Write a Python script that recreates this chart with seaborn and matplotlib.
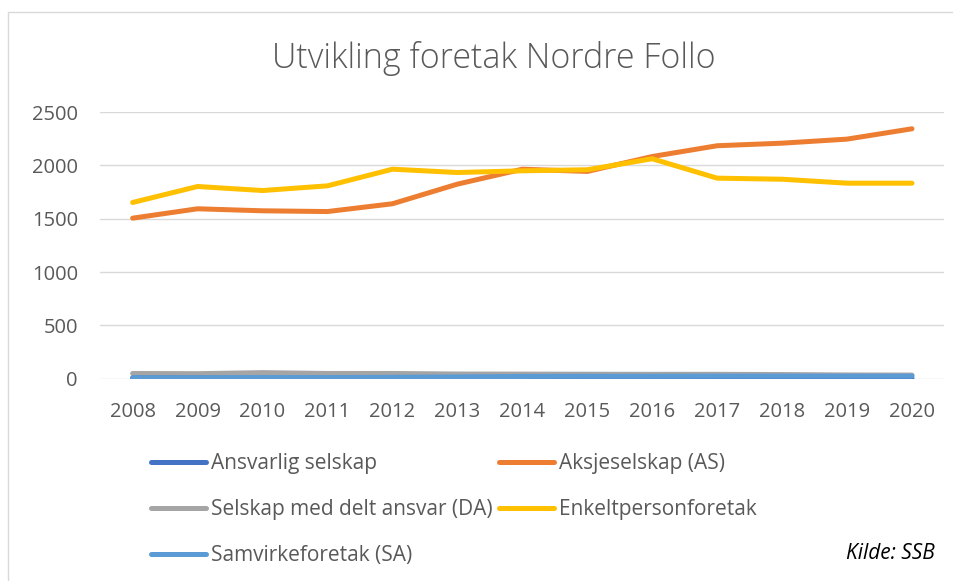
import pandas as pd
import matplotlib.pyplot as plt
import seaborn as sns
from matplotlib.patches import Rectangle

years = list(range(2008, 2021))

ansvarlig = [8, 8, 8, 7, 7, 6, 6, 6, 6, 6, 5, 5, 5]
aksje = [1506, 1594, 1575, 1568, 1641, 1825, 1965, 1944, 2084, 2185, 2209, 2247, 2344]
delt_ansvar = [50, 48, 58, 50, 50, 45, 44, 43, 42, 42, 40, 36, 35]
enkelt = [1653, 1803, 1765, 1809, 1965, 1934, 1950, 1960, 2063, 1881, 1871, 1834, 1834]
samvirke = [10, 10, 12, 12, 14, 18, 22, 24, 24, 25, 25, 25, 25]

series_names = ["Ansvarlig selskap", "Aksjeselskap (AS)", "Selskap med delt ansvar (DA)",
                "Enkeltpersonforetak", "Samvirkeforetak (SA)"]
colors = ["#4472C4", "#ED7D31", "#A5A5A5", "#FFC000", "#5B9BD5"]

df = pd.DataFrame({"År": years,
                   series_names[0]: ansvarlig,
                   series_names[1]: aksje,
                   series_names[2]: delt_ansvar,
                   series_names[3]: enkelt,
                   series_names[4]: samvirke})
long_df = df.melt(id_vars="År", var_name="Type", value_name="Antall")

sns.set_style("white")
plt.rcParams['font.family'] = ['Open Sans', 'DejaVu Sans']
txt = "#595959"

fig = plt.figure(figsize=(9.54, 5.81), dpi=100)
ax = fig.add_axes([0.105, 0.348, 0.885, 0.459])

# draw order: small series first so the big ones sit on top
draw_order = [2, 0, 4, 1, 3]
for i in draw_order:
    sub = long_df[long_df["Type"] == series_names[i]]
    sns.lineplot(data=sub, x="År", y="Antall", color=colors[i], lw=3.6,
                 label=series_names[i], ax=ax, solid_capstyle="round")

ax.set_xlim(2007.5, 2020.5)
ax.set_ylim(0, 2500)
ax.set_xticks(years)
ax.set_yticks([0, 500, 1000, 1500, 2000, 2500])
ax.yaxis.grid(True, color="#D9D9D9", lw=1)
ax.set_axisbelow(True)
for s in ax.spines.values():
    s.set_visible(False)
ax.tick_params(axis="both", length=0, labelsize=14.5, colors=txt)
ax.tick_params(axis="x", pad=17)
ax.tick_params(axis="y", pad=16)
ax.set_xlabel("")
ax.set_ylabel("")
ax.get_legend().remove()

fig.text(0.518, 0.899, "Utvikling foretak Nordre Follo", ha="center", va="center",
         fontsize=24.5, color=txt, fontweight="light")

handles, labels = ax.get_legend_handles_labels()
lookup = dict(zip(labels, handles))
leg_order = [0, 2, 4, 1, 3]
fig.legend([lookup[series_names[i]] for i in leg_order],
           [series_names[i] for i in leg_order],
           ncol=2, frameon=False, loc="upper left", bbox_to_anchor=(0.158, 0.22),
           fontsize=15, labelcolor=txt, handlelength=2.65, handletextpad=0.25,
           columnspacing=0.3, labelspacing=1.2, borderpad=0, borderaxespad=0)

fig.text(0.98, 0.048, "Kilde: SSB", ha="right", va="center", fontsize=15,
         style="italic", color="black")

fig.patches.append(Rectangle((8 / 954, -0.05), 1.1, 1 - 12 / 581 + 0.05,
                             transform=fig.transFigure, fill=False,
                             edgecolor="#D9D9D9", lw=1))

fig.savefig("out.png", dpi=100)
